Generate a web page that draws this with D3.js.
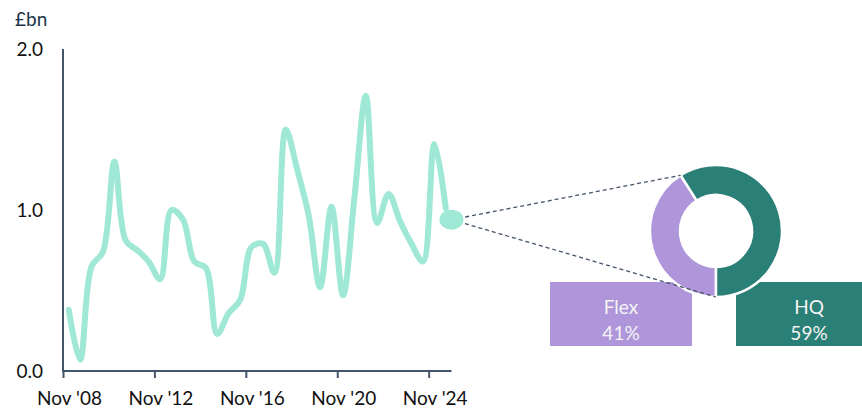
<!DOCTYPE html>
<html>
<head>
<meta charset="utf-8">
<script src="https://cdn.jsdelivr.net/npm/d3@7"></script>
<style>
  html, body { margin: 0; padding: 0; background: #fff; }
  svg { display: block; font-family: Lato, "Open Sans", sans-serif; }
</style>
</head>
<body>
<svg id="chart" width="862" height="408"></svg>
<script>
// Half-yearly investment volumes, £bn
const periods = [
  "2009-02","2009-08","2010-02","2010-08","2011-02","2011-08","2012-02","2012-08",
  "2013-02","2013-08","2014-02","2014-08","2015-02","2015-08","2016-02","2016-08",
  "2017-02","2017-08","2018-02","2018-08","2019-02","2019-08","2020-02","2020-08",
  "2021-02","2021-08","2022-02","2022-08","2023-02","2023-08","2024-02","2024-08",
  "2025-02","2025-08"
];
const volumes = [
  0.38, 0.07, 0.65, 0.74, 1.30, 0.81, 0.75, 0.68,
  0.57, 1.00, 0.94, 0.68, 0.64, 0.23, 0.36, 0.44,
  0.77, 0.79, 0.61, 1.50, 1.25, 0.97, 0.52, 1.02,
  0.47, 1.07, 1.71, 0.92, 1.10, 0.93, 0.79, 0.68,
  1.41, 1.01
];
// Latest point, broken down in the donut
const latestPeriod = "2025-11";
const latestValue = 0.94;

const splitLabels = ["Flex", "HQ"];
const splitShares = [41, 59];
const splitColors = ["#af96da", "#2a7f76"];

const yTicks = [0, 1, 2];
const xTickDates = ["2008-11", "2012-11", "2016-11", "2020-11", "2024-11"];
const xTickLabels = ["Nov '08", "Nov '12", "Nov '16", "Nov '20", "Nov '24"];

const parse = d3.timeParse("%Y-%m");
const svg = d3.select("#chart");
const axisColor = "#44546a";

const x = d3.scaleTime()
  .domain([parse("2008-11"), parse("2025-11")])
  .range([63, 451.5]);
const y = d3.scaleLinear().domain([0, 2]).range([371, 49]);

const series = periods.map((p, i) => ({ date: parse(p), value: volumes[i] }));

// Unit label
svg.append("text")
  .attr("x", 15).attr("y", 26)
  .attr("font-size", 19).attr("fill", "#1c3448")
  .text("£bn");

// Y axis: line only, labels to the left
svg.append("line")
  .attr("x1", x.range()[0]).attr("x2", x.range()[0])
  .attr("y1", y(2)).attr("y2", y(0) + 1)
  .attr("stroke", axisColor).attr("stroke-width", 2);
svg.append("g").selectAll("text").data(yTicks).join("text")
  .attr("x", 43).attr("y", d => y(d) + 6.5)
  .attr("text-anchor", "end").attr("font-size", 19).attr("fill", "#111")
  .text(d => d3.format(".1f")(d));

// X axis
const xAxis = d3.axisBottom(x)
  .tickValues(xTickDates.map(parse))
  .tickSize(7)
  .tickFormat((d, i) => xTickLabels[i]);
const gx = svg.append("g").attr("transform", `translate(0,${y(0)})`).call(xAxis);
gx.select(".domain").attr("stroke", axisColor).attr("stroke-width", 2)
  .attr("d", `M${x.range()[0] - 1},0H${x.range()[1]}`);
gx.selectAll(".tick line").attr("stroke", axisColor).attr("stroke-width", 2);
gx.selectAll(".tick text")
  .attr("font-size", 19).attr("fill", "#111")
  .attr("font-family", "Lato, 'Open Sans', sans-serif")
  .attr("dx", 6).attr("y", 21).attr("dy", "0.71em");

// Volume line
const line = d3.line()
  .x(d => x(d.date)).y(d => y(d.value))
  .curve(d3.curveCatmullRom.alpha(0.5));
svg.append("path")
  .datum(series)
  .attr("d", line)
  .attr("fill", "none")
  .attr("stroke", "#9fe8d5")
  .attr("stroke-width", 6)
  .attr("stroke-linecap", "round")
  .attr("stroke-linejoin", "round");

// Donut of the latest split
const cx = 716, cy = 231, rOuter = 66, rInner = 36;
const pie = d3.pie().sort(null).startAngle(Math.PI).endAngle(3 * Math.PI);
const arcs = pie(splitShares);
const arc = d3.arc().innerRadius(rInner).outerRadius(rOuter);

// Label boxes under the donut
const boxes = [
  { x: 550, w: 142 },
  { x: 736, w: 146 }
];
const boxY = 282, boxH = 64;
const gb = svg.append("g");
boxes.forEach((b, i) => {
  gb.append("rect")
    .attr("x", b.x).attr("y", boxY).attr("width", b.w).attr("height", boxH)
    .attr("fill", splitColors[i]);
  gb.append("text")
    .attr("x", b.x + b.w / 2).attr("y", 313.5)
    .attr("text-anchor", "middle").attr("font-size", 19).attr("fill", "#f4f4f4")
    .text(splitLabels[i]);
  gb.append("text")
    .attr("x", b.x + b.w / 2).attr("y", 339.5)
    .attr("text-anchor", "middle").attr("font-size", 19).attr("fill", "#f4f4f4")
    .text(splitShares[i] + "%");
});

svg.append("g").attr("transform", `translate(${cx},${cy})`)
  .selectAll("path").data(arcs).join("path")
  .attr("d", arc)
  .attr("fill", (d, i) => splitColors[i])
  .attr("stroke", "#fff").attr("stroke-width", 2.5);

// Connector lines from the latest point to the donut
const dotX = x(parse(latestPeriod)), dotY = y(latestValue);
const edge = a => [cx + rOuter * Math.sin(a), cy - rOuter * Math.cos(a)];
const topEnd = edge(arcs[0].endAngle);
const bottomEnd = edge(arcs[0].startAngle);
[topEnd, bottomEnd].forEach(p => {
  svg.append("line")
    .attr("x1", dotX).attr("y1", dotY)
    .attr("x2", p[0]).attr("y2", p[1])
    .attr("stroke", axisColor).attr("stroke-width", 1.3)
    .attr("stroke-dasharray", "4,3");
});

// Latest point marker
svg.append("ellipse")
  .attr("cx", dotX).attr("cy", dotY)
  .attr("rx", 12).attr("ry", 10)
  .attr("fill", "#9fe8d5");
</script>
</body>
</html>
